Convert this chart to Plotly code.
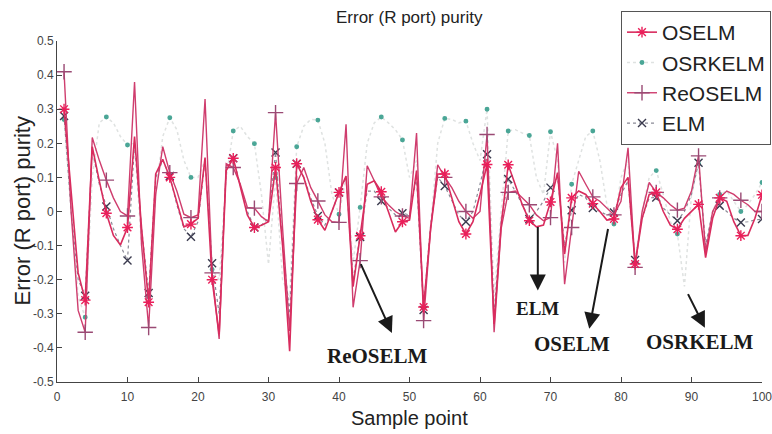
import plotly.graph_objects as go

# ---------------- data ----------------
sample = list(range(1, 101))

oselm = [0.30, 0.05, -0.18, -0.26, 0.19, 0.09, -0.005, -0.07, -0.098, -0.047,
         0.22, -0.05, -0.266, 0.11, 0.153, 0.10, 0.03, -0.045, -0.037, -0.02,
         0.158, -0.20, -0.36, 0.12, 0.156, 0.07, -0.01, -0.047, -0.04, -0.03,
         0.129, -0.10, -0.41, 0.14, 0.10, 0.03, -0.024, -0.055, 0.0, 0.056,
         0.104, -0.22, -0.071, 0.08, 0.09, 0.058, 0.0, -0.06, -0.03, -0.025,
         0.12, -0.28, -0.05, 0.11, 0.11, 0.04, -0.03, -0.066, -0.03, 0.05,
         0.138, -0.33, -0.04, 0.137, 0.08, 0.02, -0.027, -0.045, -0.04, 0.028,
         0.114, -0.125, 0.04, 0.06, 0.05, 0.023, 0.0, -0.025, -0.022, 0.07,
         0.10, -0.154, -0.02, 0.05, 0.056, 0.0, -0.04, -0.052, -0.02, 0.0,
         0.021, -0.135, -0.02, 0.04, 0.03, -0.03, -0.071, -0.07, -0.02, 0.049]

osrkelm = [0.27, 0.0, -0.25, -0.31, 0.10, 0.26, 0.277, 0.26, 0.22, 0.195,
           0.20, -0.10, -0.25, 0.05, 0.22, 0.275, 0.24, 0.15, 0.10, 0.10,
           0.15, -0.17, -0.20, 0.10, 0.236, 0.25, 0.22, 0.199, 0.05, -0.155,
           0.10, -0.20, -0.25, 0.19, 0.25, 0.27, 0.268, 0.20, 0.05, -0.008,
           0.10, -0.15, 0.012, 0.20, 0.26, 0.277, 0.26, 0.24, 0.21, 0.10,
           0.15, -0.28, -0.05, 0.20, 0.273, 0.27, 0.26, 0.265, 0.20, 0.15,
           0.30, -0.25, 0.0, 0.236, 0.24, 0.23, 0.223, 0.10, 0.05, 0.234,
           0.15, -0.15, 0.08, 0.15, 0.22, 0.236, 0.15, 0.02, -0.037, 0.10,
           0.15, -0.15, 0.0, 0.10, 0.12, 0.05, -0.03, -0.066, -0.22, 0.05,
           0.14, -0.10, 0.0, 0.05, 0.06, 0.03, 0.0, 0.02, 0.05, 0.085]

reoselm = [0.41, 0.0, -0.29, -0.354, 0.217, 0.15, 0.092, 0.04, 0.0, -0.013,
           0.38, -0.10, -0.34, 0.05, 0.19, 0.114, 0.06, -0.008, -0.018, -0.01,
           0.33, -0.18, -0.374, 0.14, 0.129, 0.08, 0.012, 0.01, -0.015, -0.03,
           0.29, -0.05, -0.35, 0.082, 0.129, 0.07, 0.031, -0.01, -0.03, -0.032,
           0.256, -0.281, -0.144, 0.134, 0.09, 0.043, 0.02, 0.0, -0.013, -0.02,
           0.23, -0.32, -0.05, 0.137, 0.10, 0.07, 0.03, 0.0, -0.02, 0.0,
           0.226, -0.354, -0.05, 0.056, 0.06, 0.04, 0.02, -0.01, -0.027, -0.018,
           0.20, -0.213, -0.047, 0.118, 0.08, 0.043, 0.03, 0.01, -0.01, 0.03,
           0.187, -0.164, 0.0, 0.085, 0.056, 0.04, 0.02, 0.004, 0.01, 0.06,
           0.163, -0.12, 0.0, 0.04, 0.06, 0.05, 0.033, 0.02, 0.0, 0.0]

elm = [0.28, 0.0, -0.20, -0.247, 0.18, 0.08, 0.015, -0.05, -0.10, -0.144,
       0.20, -0.05, -0.239, 0.10, 0.15, 0.104, 0.02, -0.05, -0.074, -0.03,
       0.15, -0.152, -0.30, 0.12, 0.156, 0.08, 0.0, -0.047, -0.04, -0.02,
       0.173, -0.10, -0.30, 0.14, 0.10, 0.04, -0.013, -0.04, 0.0, 0.056,
       0.10, -0.20, -0.075, 0.06, 0.06, 0.031, 0.01, -0.01, -0.005, -0.01,
       0.10, -0.289, -0.04, 0.10, 0.075, 0.03, -0.01, -0.03, 0.0, 0.08,
       0.168, -0.30, -0.03, 0.095, 0.06, 0.02, -0.022, 0.0, 0.03, 0.07,
       0.10, -0.10, 0.004, 0.05, 0.04, 0.01, 0.0, -0.01, -0.003, 0.05,
       0.09, -0.142, -0.02, 0.04, 0.041, 0.01, -0.01, -0.027, 0.0, 0.05,
       0.143, -0.10, 0.0, 0.017, 0.0, -0.02, -0.032, -0.03, -0.025, -0.022]

x_ticks = [0, 10, 20, 30, 40, 50, 60, 70, 80, 90, 100]
y_ticks = [0.5, 0.4, 0.3, 0.2, 0.1, 0, -0.1, -0.2, -0.3, -0.4, -0.5]
y_tick_labels = ["0.5", "0.4", "0.3", "0.2", "0.1", "0", "-0.1", "-0.2", "-0.3", "-0.4", "-0.5"]

# annotation arrows: (label, tail x, tail y, head x, head y, text x, text y)
arrow_notes = [
    ("ReOSELM", 43.0, -0.150, 47.5, -0.356, 45.5, -0.425),
    ("ELM", 68.2, -0.041, 68.2, -0.232, 68.2, -0.285),
    ("OSELM", 78.2, -0.047, 75.5, -0.344, 73.0, -0.388),
    ("OSRKELM", 89.4, -0.238, 91.9, -0.341, 91.2, -0.383),
]

# ---------------- figure ----------------
MARK_EVERY = 3
CLEAR = "rgba(0,0,0,0)"
PL, PR, PT, PB = 57, 762, 41, 382   # plot-area edges in pixels
PW, PH = PR - PL, PB - PT


def mcolors(c):
    return [c if i % MARK_EVERY == 0 else CLEAR for i in range(len(sample))]


fig = go.Figure()

series = [
    # name, values, line color, dash, width, symbol, marker color, size, rank
    ("OSRKELM", osrkelm, "#dfe2e1", "dot", 1.5, "circle", "#4aa696", 3.5, 2),
    ("ELM", elm, "#8a8a96", "dot", 1.2, "x-thin-open", "#3a3a4e", 8, 4),
    ("ReOSELM", reoselm, "#cf3d6e", "solid", 1.4, "cross-thin-open", "#9a4a74", 11, 3),
    ("OSELM", oselm, "#d92c5e", "solid", 1.6, "asterisk-open", "#ea1f5a", 9, 1),
]

for name, vals, lc, dash, lw, sym, mc, ms, rank in series:
    cols = mcolors(mc)
    fig.add_trace(go.Scatter(
        x=sample, y=vals, name=name, mode="lines+markers",
        line=dict(color=lc, dash=dash, width=lw),
        marker=dict(symbol=sym, size=ms, color=cols,
                    line=dict(color=cols, width=1.4)),
        legendrank=rank,
    ))

annotations = []
for label, tx, ty, hx, hy, lx, ly in arrow_notes:
    annotations.append(dict(
        x=hx, y=hy, xref="x", yref="y",
        ax=tx, ay=ty, axref="x", ayref="y",
        text="", showarrow=True, arrowhead=2, arrowsize=1.6,
        arrowwidth=2, arrowcolor="#1a1a1a",
    ))
    annotations.append(dict(
        x=lx, y=ly, xref="x", yref="y", text="<b>%s</b>" % label,
        showarrow=False, xanchor="center", yanchor="middle",
        font=dict(family="Liberation Serif, Times New Roman, serif",
                  size=19 if label == "ELM" else 21, color="#1a1a1a"),
    ))

annotations.append(dict(
    text="Error (R port) purity", textangle=-90,
    xref="paper", yref="paper", x=(22 - PL) / PW, y=0.5,
    xanchor="center", yanchor="middle", showarrow=False,
    font=dict(family="Liberation Sans, Arial, sans-serif", size=22, color="#222"),
))
annotations.append(dict(
    text="Error (R port) purity",
    xref="paper", yref="paper", x=(410 - PL) / PW, y=(PB - 17) / PH,
    xanchor="center", yanchor="middle", showarrow=False,
    font=dict(family="Liberation Sans, Arial, sans-serif", size=17, color="#222"),
))
annotations.append(dict(
    text="Sample point",
    xref="paper", yref="paper", x=(410 - PL) / PW, y=-(418 - PB) / PH,
    xanchor="center", yanchor="middle", showarrow=False,
    font=dict(family="Liberation Sans, Arial, sans-serif", size=20, color="#222"),
))

fig.update_layout(
    width=772, height=434,
    margin=dict(l=PL, r=772 - PR, t=PT, b=434 - PB, autoexpand=False),
    paper_bgcolor="white", plot_bgcolor="white",
    font=dict(family="Liberation Sans, Arial, sans-serif", color="#333"),
    showlegend=True,
    legend=dict(
        x=(771 - PL) / PW, y=(PB - 11) / PH, xanchor="right", yanchor="top",
        bordercolor="#555", borderwidth=1, bgcolor="white",
        font=dict(family="Liberation Sans, Arial, sans-serif", size=21, color="#222"),
        tracegroupgap=0,
    ),
    annotations=annotations,
)

fig.update_xaxes(
    range=[0, 100], tickvals=x_ticks, ticks="inside", ticklen=5,
    showline=True, linecolor="#444", linewidth=1, showgrid=False, zeroline=False,
    tickfont=dict(size=12, color="#444"), ticklabelstandoff=4,
    ticklabeloverflow="allow",
)
fig.update_yaxes(
    range=[-0.5, 0.5], tickvals=y_ticks, ticktext=y_tick_labels, ticks="inside", ticklen=5,
    showline=True, linecolor="#444", linewidth=1, showgrid=False, zeroline=False,
    tickfont=dict(size=12, color="#444"),
)

fig.write_html(
    "out.html",
    config={"displayModeBar": False},
    post_script=("document.body.style.margin='0px';"
                 "document.body.style.overflow='hidden';"
                 "var gd=document.querySelector('.plotly-graph-div');"
                 "gd.style.position='fixed';gd.style.left='0px';gd.style.top='0px';"
                 "window.scrollTo(0,0);"),
)
